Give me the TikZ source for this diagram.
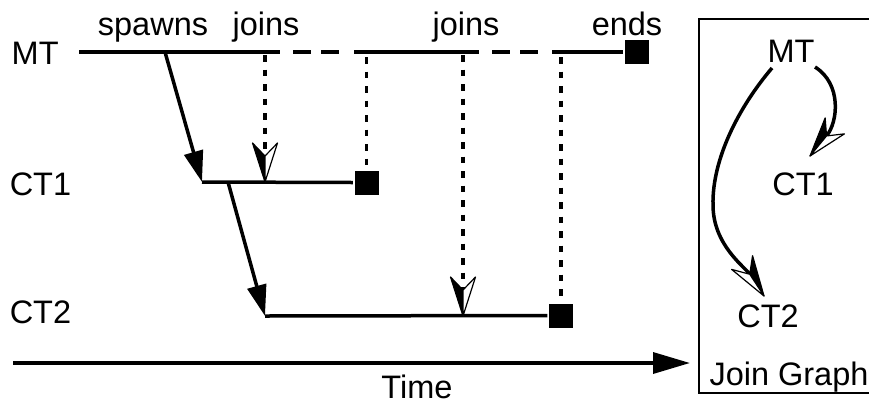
\documentclass[tikz,border=0pt]{standalone}
\usepackage{fontspec}
\setmainfont{Liberation Sans}
\usetikzlibrary{arrows.meta}

\newdimen\hvtmp
\pgfdeclarearrow{
  name=HalfV,
  parameters={\the\pgfarrowlength,\the\pgfarrowwidth,\the\pgfarrowinset},
  setup code={
    \pgfarrowssettipend{0pt}
    \hvtmp=\pgfarrowinset
    \advance\hvtmp by -\pgfarrowlength
    \pgfarrowssetlineend{\hvtmp}
    \pgfarrowssetbackend{-\pgfarrowlength}
    \pgfarrowssavethe\pgfarrowlength
    \pgfarrowssavethe\pgfarrowwidth
    \pgfarrowssavethe\pgfarrowinset
  },
  drawing code={
    \hvtmp=\pgfarrowinset
    \advance\hvtmp by -\pgfarrowlength
    \pgfsetdash{}{0pt}
    \pgfsetlinewidth{1.2pt}
    \pgfsetroundjoin
    \pgfsetstrokecolor{black}
    \pgfsetfillcolor{black}
    \pgfpathmoveto{\pgfpointorigin}
    \pgfpathlineto{\pgfpoint{-\pgfarrowlength}{-.5\pgfarrowwidth}}
    \pgfpathlineto{\pgfpoint{\hvtmp}{0pt}}
    \pgfpathclose
    \pgfusepathqfillstroke
    \pgfsetfillcolor{white}
    \pgfpathmoveto{\pgfpointorigin}
    \pgfpathlineto{\pgfpoint{-\pgfarrowlength}{.5\pgfarrowwidth}}
    \pgfpathlineto{\pgfpoint{\hvtmp}{0pt}}
    \pgfpathclose
    \pgfusepathqfillstroke
  },
  defaults={length=38pt, width=24pt, inset=13pt}
}
\pgfdeclarearrow{
  name=HalfVS,
  parameters={\the\pgfarrowlength,\the\pgfarrowwidth,\the\pgfarrowinset},
  setup code={
    \pgfarrowssettipend{0pt}
    \hvtmp=\pgfarrowinset
    \advance\hvtmp by -\pgfarrowlength
    \pgfarrowssetlineend{\hvtmp}
    \pgfarrowssetbackend{-\pgfarrowlength}
    \pgfarrowssavethe\pgfarrowlength
    \pgfarrowssavethe\pgfarrowwidth
    \pgfarrowssavethe\pgfarrowinset
  },
  drawing code={
    \hvtmp=\pgfarrowinset
    \advance\hvtmp by -\pgfarrowlength
    \pgfsetdash{}{0pt}
    \pgfsetlinewidth{1.2pt}
    \pgfsetroundjoin
    \pgfsetstrokecolor{black}
    \pgfsetfillcolor{black}
    \pgfpathmoveto{\pgfpointorigin}
    \pgfpathlineto{\pgfpoint{-\pgfarrowlength}{.5\pgfarrowwidth}}
    \pgfpathlineto{\pgfpoint{\hvtmp}{0pt}}
    \pgfpathclose
    \pgfusepathqfillstroke
    \pgfsetfillcolor{white}
    \pgfpathmoveto{\pgfpointorigin}
    \pgfpathlineto{\pgfpoint{-\pgfarrowlength}{-.5\pgfarrowwidth}}
    \pgfpathlineto{\pgfpoint{\hvtmp}{0pt}}
    \pgfpathclose
    \pgfusepathqfillstroke
  },
  defaults={length=38pt, width=24pt, inset=13pt}
}

\tikzset{
  lbl/.style={font=\fontsize{32.5}{38}\selectfont, anchor=base, inner sep=0pt},
  lblw/.style={lbl, anchor=base west},
  halfarrow/.style={-{HalfV[length=39pt,width=25pt,inset=13pt]}},
  halfarrowS/.style={-{HalfVS[length=40pt,width=25pt,inset=14pt]}},
  filltri/.style={-{Triangle[length=31pt,width=19pt]}},
  dotline/.style={dash pattern=on 6.5pt off 8pt, line width=3.6pt},
  mtdash/.style={dash pattern=on 0pt off 13pt on 18pt off 10pt on 18pt off 20pt},
  sq/.style={fill=black, draw=none, minimum size=24pt, inner sep=0pt},
}

\begin{document}
\begin{tikzpicture}[x=1pt,y=-1pt,line width=3.5pt]
\useasboundingbox (0,0) rectangle (869,405);

% labels
\node[lblw] (lMT)  at (10,64)  {MT};
\node[lblw] (lCT1) at (8,195)  {CT1};
\node[lblw] (lCT2) at (8,323)  {CT2};
\node[lbl] (tsp)  at (153,35) {spawns};
\node[lbl] (tj1)  at (266,35) {joins};
\node[lbl] (tj2)  at (466,35) {joins};
\node[lbl] (ten)  at (627,35) {ends};
\node[lbl] (ttime) at (417,398.5) {Time};

% end squares
\node[sq] (endMT) at (636.5,52) {};
\node[sq] (end1)  at (366.5,182.5) {};
\node[sq] (end2)  at (561,315.5) {};

% MT timeline
\coordinate (mt0) at (79,52);
\coordinate (mtA) at (280,52);
\coordinate (mtB) at (354,52);
\coordinate (mtC) at (479,52);
\coordinate (mtD) at (552,52);
\draw (mt0) -- (mtA);
\draw[mtdash] (mtA) -- (mtB);
\draw (mtB) -- (mtC);
\draw[mtdash] (mtC) -- (mtD);
\draw (mtD) -- (endMT.west);

% spawns and child timelines
\coordinate (sp1) at (165,52);
\coordinate (c1s) at (202,182);
\coordinate (sp2) at (228,182);
\coordinate (c2s) at (265,316);
\draw[filltri] (sp1) -- (c1s);
\draw (c1s) -- (end1.west);
\draw[filltri] (sp2) -- (c2s);
\draw (c2s) -- (end2.west);

% joins
\coordinate (j1top) at (265,52);
\coordinate (j1) at (265,182);
\coordinate (j2top) at (366.5,52);
\coordinate (j3top) at (463,52);
\coordinate (j3) at (463,316);
\coordinate (j4top) at (561,52);
\draw[dotline, shorten <=3pt, halfarrow] (j1top) -- (j1);
\draw[dotline, shorten <=5pt] (j2top) -- (end1.north);
\draw[dotline, shorten <=3pt, halfarrow] (j3top) -- (j3);
\draw[dotline, shorten <=5pt] (j4top) -- (end2.north);

% time axis
\coordinate (t0) at (13,363);
\coordinate (t1) at (690,363);
\draw[-{Triangle[length=37pt,width=21pt]}] (t0) -- (t1);

% join graph
\draw[line width=1.6pt] (699,19) rectangle (885,393);
\node[lbl] (gMT)  at (791,62)  {MT};
\node[lbl] (gCT1) at (803,195) {CT1};
\node[lbl] (gCT2) at (768,327) {CT2};
\node[lbl] (gJG)  at (789,385) {Join Graph};
\coordinate (g1s) at (815,67);
\coordinate (g1e) at (810,156);
\coordinate (g2s) at (772,68);
\coordinate (g2m) at (713,205);
\coordinate (g2e) at (764,296);
\draw[halfarrow] (g1s) .. controls (842,84) and (838,122) .. (g1e);
\draw[halfarrowS] (g2s) .. controls (738,108) and (712,160) .. (g2m)
   .. controls (713,245) and (745,267) .. (g2e);
\end{tikzpicture}
\end{document}
